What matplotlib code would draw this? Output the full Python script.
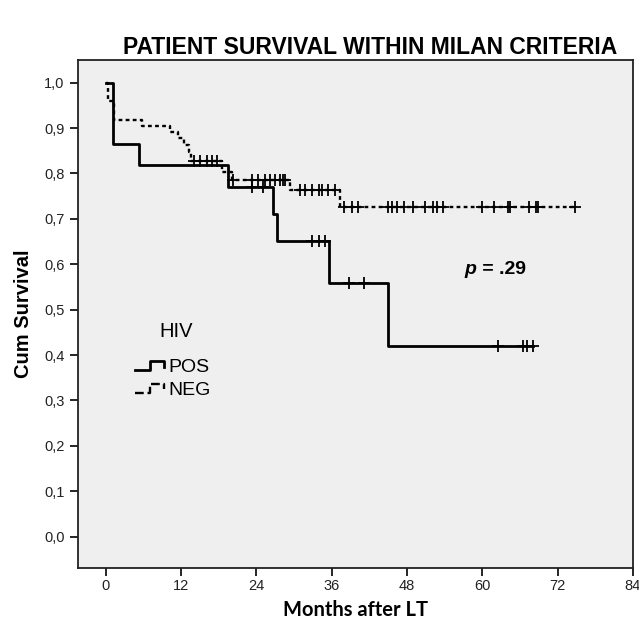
import numpy as np
import matplotlib
matplotlib.use('Agg')
import matplotlib.pyplot as plt
from matplotlib.lines import Line2D
from matplotlib.legend_handler import HandlerBase

plt.rcParams['font.family'] = ['Liberation Sans', 'DejaVu Sans']

# Kaplan-Meier steps (months, cumulative survival)
pos_times = [0, 1.2, 5.3, 19.5, 26.6, 27.2, 35.6, 45.0]
pos_surv = [1.0, 0.864, 0.818, 0.770, 0.711, 0.652, 0.559, 0.419]
pos_cens = [23.3, 25.1, 32.8, 33.9, 34.9, 38.7, 41.2, 62.5, 66.4, 67.1, 68.0]

neg_times = [0, 0.3, 1.3, 5.7, 10.2, 11.5, 12.5, 13.3, 13.6, 18.5, 20.1, 29.4, 37.3]
neg_surv = [1.0, 0.96, 0.918, 0.905, 0.892, 0.878, 0.863, 0.848, 0.828, 0.804,
            0.786, 0.764, 0.727]
neg_cens = [14.0, 15.0, 16.1, 16.9, 17.7, 20.3, 23.3, 24.3, 25.4, 26.2, 27.0,
            27.8, 28.3, 28.6, 30.9, 31.8, 32.8, 33.9, 34.4, 35.4, 36.5, 38.0,
            39.2, 40.2, 45.0, 45.6, 46.4, 47.5, 49.0, 50.9, 52.2, 52.7, 53.8,
            59.9, 61.8, 64.1, 64.4, 67.4, 68.5, 68.8, 74.7]

x_ticks = [0, 12, 24, 36, 48, 60, 72, 84]
y_ticks = [0.0, 0.1, 0.2, 0.3, 0.4, 0.5, 0.6, 0.7, 0.8, 0.9, 1.0]
y_labels = ['0,0', '0,1', '0,2', '0,3', '0,4', '0,5', '0,6', '0,7', '0,8', '0,9', '1,0']

neg_style = (0, (1.6, 1.4))


def surv_at(times, surv, t):
    idx = np.searchsorted(times, t, side='right') - 1
    return np.array(surv)[idx]


class StepHandler(HandlerBase):
    def create_artists(self, legend, orig_handle, xdescent, ydescent,
                       width, height, fontsize, trans):
        x = np.array([0, 0.5, 0.5, 0.95, 0.95]) * width - xdescent
        y = np.array([0.15, 0.15, 0.8, 0.8, 0.4]) * height - ydescent
        ln = Line2D(x, y, color='black', linestyle=orig_handle.get_linestyle(),
                    lw=orig_handle.get_linewidth())
        ln.set_transform(trans)
        return [ln]


fig = plt.figure(figsize=(6.39, 6.25), dpi=100)
ax = fig.add_axes([0.1214, 0.0912, 0.8692, 0.8128])
ax.set_facecolor('#efefef')

end_pos = pos_cens[-1]
end_neg = neg_cens[-1]
h_pos, = ax.step(pos_times + [end_pos], pos_surv + [pos_surv[-1]], where='post',
                 color='black', lw=2.0)
h_neg, = ax.step(neg_times + [end_neg], neg_surv + [neg_surv[-1]], where='post',
                 color='black', lw=1.7, linestyle=neg_style)

ax.plot(pos_cens, surv_at(pos_times, pos_surv, pos_cens), linestyle='none',
        marker='+', ms=8, mew=1.3, color='black')
ax.plot(neg_cens, surv_at(neg_times, neg_surv, neg_cens), linestyle='none',
        marker='+', ms=8, mew=1.3, color='black')

ax.set_xlim(-4.5, 84)
ax.set_ylim(-0.069, 1.05)
ax.set_xticks(x_ticks)
ax.set_yticks(y_ticks)
ax.set_yticklabels(y_labels)
ax.tick_params(direction='out', length=6, width=1.2, labelsize=10.5,
               colors='black', labelcolor='#222222')
ax.tick_params(axis='x', pad=2)
for s in ax.spines.values():
    s.set_linewidth(1.3)
    s.set_color('#222222')

ax.set_xlabel('Months after LT', fontsize=14.5, fontweight='bold',
              family=['Lato', 'DejaVu Sans'], labelpad=5)
ax.set_ylabel('Cum Survival', fontsize=14.5, fontweight='bold', labelpad=8)

fig.text(370 / 639, 1 - 47 / 625, 'PATIENT SURVIVAL WITHIN MILAN CRITERIA',
         ha='center', va='center', fontsize=16.5, fontweight='bold')

# p-value annotation
t = ax.text(57.2, 0.578, 'p', fontsize=14, fontweight='bold', style='italic',
            ha='left', va='baseline')
ax.annotate(' = .29', xy=(1, 0), xycoords=t, fontsize=14, fontweight='bold',
            ha='left', va='bottom')

# legend
ax.text(0.178, 0.466, 'HIV', transform=ax.transAxes, fontsize=14.5,
        ha='center', va='center')
ax.legend([h_pos, h_neg], ['POS', 'NEG'], loc='upper left',
          bbox_to_anchor=(0.103, 0.412), frameon=False, fontsize=14,
          handler_map={h_pos: StepHandler(), h_neg: StepHandler()},
          handlelength=1.6, handletextpad=0.15, labelspacing=0.25,
          borderpad=0, borderaxespad=0)

fig.savefig('out.png', dpi=100)
